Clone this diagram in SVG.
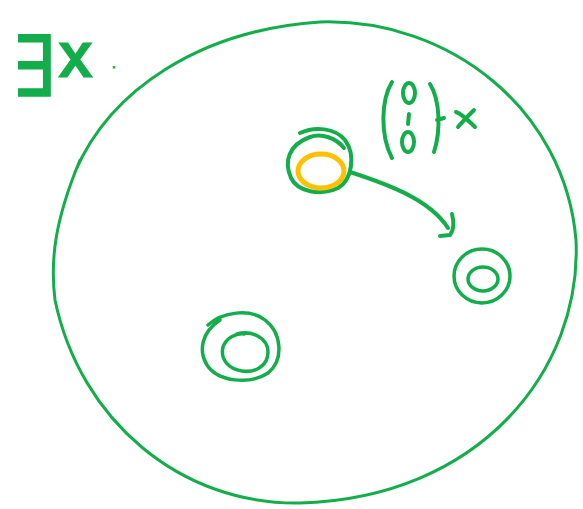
<svg xmlns="http://www.w3.org/2000/svg" width="583" height="509" viewBox="0 0 583 509">
<style>
.g{fill:none;stroke:#14ad4b;stroke-linecap:round;stroke-linejoin:round}
.o{fill:none;stroke:#ffc000;stroke-width:5}
.t{fill:#14ad4b;stroke:#14ad4b;font-family:"Liberation Sans",sans-serif}
</style>
<rect width="583" height="509" fill="#fff"/>
<g id="label-exists">
<text class="t" x="12" y="96" font-size="84" stroke-width="1.5" transform="translate(12,0) scale(0.8,1) translate(-12,0)">∃</text>
<text class="t" x="60" y="76" font-size="62" stroke-width="3">x</text>
<text class="t" x="112" y="68" font-size="14" stroke-width="1">.</text>
</g>
<g id="domain">
<path class="g" stroke-width="3" d="M75,172 C110,90 200,30 320,22 C450,18 565,110 576,240 C582,370 480,498 300,503 C180,505 80,420 55,300 C50,260 55,220 80,160"/>
</g>
<g id="vector">
<path class="g" stroke-width="4" d="M392,82 C381,100 380,135 392,158"/>
<path class="g" stroke-width="4" d="M430,84 C440,100 441,130 434,152 M437,120 L444,118"/>
<ellipse class="g" stroke-width="4" cx="409" cy="93" rx="6" ry="10"/>
<path class="g" stroke-width="4" d="M409,114 L408,124"/>
<ellipse class="g" stroke-width="4" cx="408" cy="142" rx="6" ry="10"/>
<path class="g" stroke-width="4" d="M456,112 C462,114 470,122 475,127 M474,110 C468,116 462,122 458,127"/>
</g>
<g id="node-top">
<path class="g" stroke-width="4" d="M300,133 C315,126 335,128 345,140 C356,155 352,180 338,188 C320,196 298,192 291,178 C284,162 288,145 310,137 C322,133 336,138 344,148"/>
<ellipse class="o" cx="321" cy="171" rx="23" ry="17"/>
</g>
<g id="node-right">
<ellipse class="g" stroke-width="3.5" cx="482" cy="276" rx="28" ry="27"/>
<ellipse class="g" stroke-width="3.5" cx="483" cy="279" rx="15" ry="12"/>
</g>
<g id="node-left">
<path class="g" stroke-width="3.5" d="M208,325 C222,312 250,308 265,320 C282,333 284,360 268,373 C250,385 218,382 207,365 C198,350 202,332 220,320"/>
<path class="g" stroke-width="3.5" d="M237,334 C252,330 268,338 268,352 C268,366 255,373 242,371 C229,369 220,360 223,347 C226,338 236,333 244,334"/>
</g>
<g id="connectors">
<path class="g" stroke-width="4" d="M350,172 C390,185 430,200 448,228"/>
<path class="g" stroke-width="4" d="M452,214 C454,222 454,230 450,235 L440,236"/>
</g>
</svg>
